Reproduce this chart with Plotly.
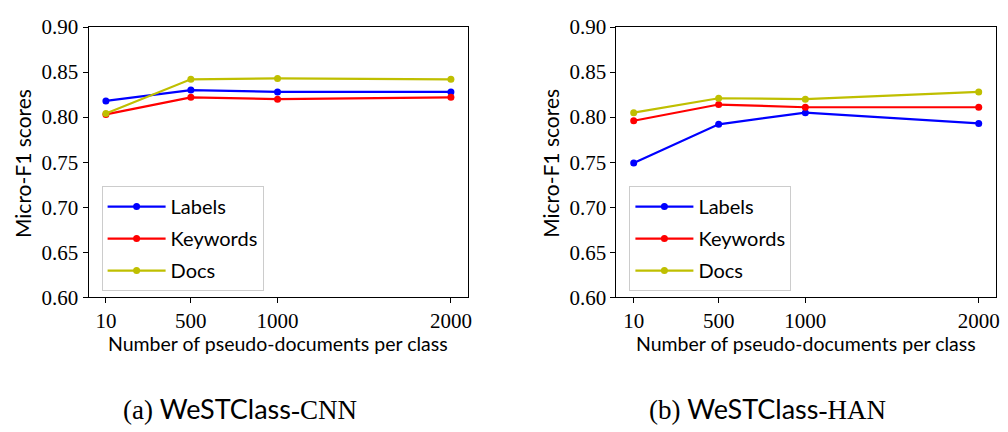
import plotly.graph_objects as go

# Number of pseudo-documents per class
pseudo_docs = [10, 500, 1000, 2000]
tick_text = ["10", "500", "1000", "2000"]
y_ticks = [0.60, 0.65, 0.70, 0.75, 0.80, 0.85, 0.90]

# WeSTClass-CNN micro-F1
cnn_labels = [0.818, 0.830, 0.828, 0.828]
cnn_keywords = [0.803, 0.822, 0.820, 0.822]
cnn_docs = [0.804, 0.842, 0.843, 0.842]

# WeSTClass-HAN micro-F1
han_labels = [0.749, 0.792, 0.805, 0.793]
han_keywords = [0.796, 0.814, 0.811, 0.811]
han_docs = [0.805, 0.821, 0.820, 0.828]

series_names = ["Labels", "Keywords", "Docs"]
colors = ["#0000ff", "#ff0000", "#bfbf00"]

SERIF = "Liberation Serif, DejaVu Serif, serif"
SANS = "Lato, Open Sans, DejaVu Sans, sans-serif"

fig = go.Figure()

panels = [
    ("x", "y", "legend", [cnn_labels, cnn_keywords, cnn_docs]),
    ("x2", "y2", "legend2", [han_labels, han_keywords, han_docs]),
]
for xa, ya, lg, data in panels:
    for name, vals, col in zip(series_names, data, colors):
        fig.add_trace(go.Scatter(
            x=pseudo_docs, y=vals, name=name, mode="lines+markers",
            line=dict(color=col, width=2.2),
            marker=dict(color=col, size=7),
            xaxis=xa, yaxis=ya, legend=lg, legendgroup=lg + name,
        ))

x_domains = [[0.0883, 0.4663], [0.614, 0.992]]
y_domain = [0.301, 0.963]

axis_common = dict(
    showline=True, linecolor="black", linewidth=1.2, mirror=True,
    ticks="outside", ticklen=5, tickwidth=1.2, tickcolor="black",
    showgrid=False, zeroline=False,
    tickfont=dict(family=SERIF, size=21, color="black"),
)

for i, dom in enumerate(x_domains):
    sfx = "" if i == 0 else str(i + 1)
    fig.update_layout(**{
        "xaxis" + sfx: dict(
            domain=dom, anchor="y" + sfx, range=[-89.5, 2099.5],
            tickvals=pseudo_docs, ticktext=tick_text, **axis_common),
        "yaxis" + sfx: dict(
            domain=y_domain, anchor="x" + sfx, range=[0.60, 0.90],
            tickvals=y_ticks, ticktext=["%.2f" % v for v in y_ticks],
            **axis_common),
    })

legend_style = dict(
    font=dict(family=SANS, size=20, color="black"),
    bgcolor="rgba(255,255,255,0.8)", bordercolor="#cccccc", borderwidth=1,
    itemwidth=58, tracegroupgap=3, xanchor="left", yanchor="bottom",
)
fig.update_layout(
    legend=dict(x=x_domains[0][0] + 13 / 1008, y=0.316, **legend_style),
    legend2=dict(x=x_domains[1][0] + 13 / 1008, y=0.316, **legend_style),
)

annotations = []
for dom, caption in zip(x_domains, [
    '(a) <span style="font-family:Lato, Open Sans, sans-serif">WeSTClass</span>-CNN',
    '(b) <span style="font-family:Lato, Open Sans, sans-serif">WeSTClass</span>-HAN',
]):
    cx = (dom[0] + dom[1]) / 2
    annotations.append(dict(
        text="Number of pseudo-documents per class", x=cx, y=351,
        font=dict(family=SANS, size=19.5, color="black")))
    annotations.append(dict(
        text="Micro-F1 scores", x=dom[0] - 67 / 1008, y=160, textangle=-90,
        font=dict(family=SANS, size=21, color="black")))
    annotations.append(dict(
        text=caption, x=dom[0] + 152 / 1008, y=420,
        font=dict(family=SERIF, size=27, color="black")))

# pixel rows to paper coordinates, centred anchors
for a in annotations:
    a["y"] = 1 - a["y"] / 432
    a.update(xref="paper", yref="paper", showarrow=False,
             xanchor="center", yanchor="middle")

fig.update_layout(
    annotations=annotations,
    width=1008, height=432,
    margin=dict(l=0, r=0, t=0, b=0),
    paper_bgcolor="white", plot_bgcolor="white",
    showlegend=True,
)

fig.write_html("out.html")
